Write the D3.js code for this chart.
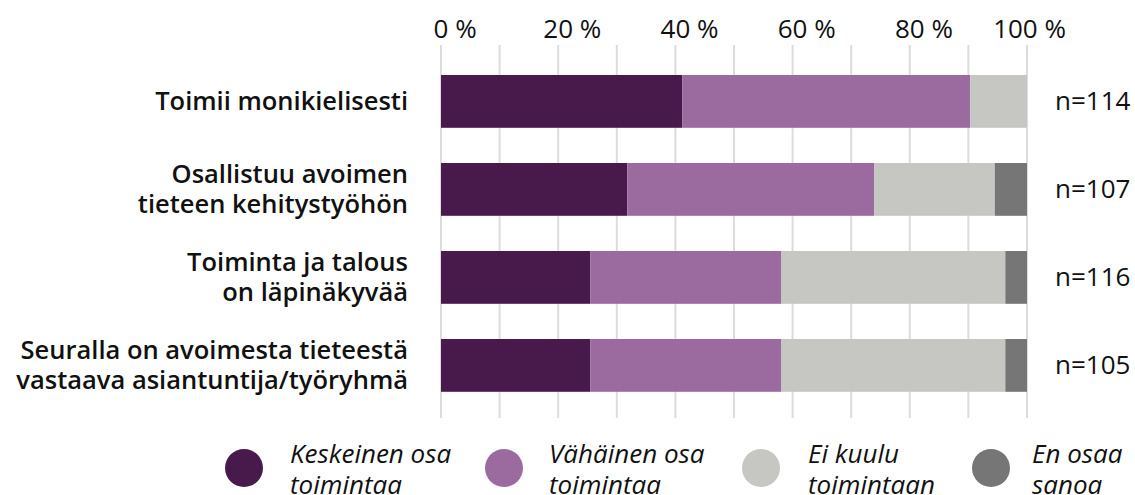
<!DOCTYPE html>
<html>
<head>
<meta charset="utf-8">
<script src="https://cdn.jsdelivr.net/npm/d3@7"></script>
<style>
  body { margin: 0; background: #fff; }
  svg { display: block; font-family: "Open Sans", sans-serif; }
</style>
</head>
<body>
<svg id="chart" width="1135" height="495"></svg>
<script>
// categories (label lines) and respondent counts
const categories = [
    ["Toimii monikielisesti"],
    ["Osallistuu avoimen", "tieteen kehitystyöhön"],
    ["Toiminta ja talous", "on läpinäkyvää"],
    ["Seuralla on avoimesta tieteestä", "vastaava asiantuntija/työryhmä"]
];
const counts = [114, 107, 116, 105];

// series shares, %
const keskeinen = [41.2, 31.8, 25.5, 25.5];
const vahainen = [49.1, 42.1, 32.6, 32.6];
const eiKuulu = [9.7, 20.6, 38.2, 38.2];
const enOsaa = [0, 5.5, 3.7, 3.7];

const seriesNames = [
    ["Keskeinen osa", "toimintaa"],
    ["Vähäinen osa", "toimintaa"],
    ["Ei kuulu", "toimintaan"],
    ["En osaa", "sanoa"]
];
const tickValues = [0, 20, 40, 60, 80, 100];

const colors = ["#48194b", "#9b6a9e", "#c6c7c2", "#767676"];

const svg = d3.select("#chart");

const x = d3.scaleLinear().domain([0, 100]).range([441, 1027]);
const y = d3.scaleBand()
            .domain(d3.range(categories.length))
            .range([57.4, 409.4])
            .paddingInner(0.4)
            .paddingOuter(0.2);

/* grid lines every 10 % */
svg.append("g")
   .selectAll("line")
   .data(d3.range(0, 101, 10))
   .join("line")
    .attr("x1", d => x(d))
    .attr("x2", d => x(d))
    .attr("y1", 45)
    .attr("y2", 418)
    .attr("stroke", "#dcdcdc")
    .attr("stroke-width", 2);

/* top axis labels: the number sits centred on its grid line,
   the last one is pulled in so it fits inside the picture */
const tickG = svg.append("g")
   .attr("font-size", "26px")
   .attr("fill", "#111");

tickG.selectAll("text")
   .data(tickValues)
   .join("text")
    .attr("y", 37.5)
    .text(d => `${d} %`)
    .each(function(d) {
        const el = d3.select(this);
        el.text(String(d));
        const numW = this.getComputedTextLength();
        el.text(`${d} %`);
        const fullW = this.getComputedTextLength();
        let left = x(d) - numW / 2;
        if (left + fullW > 1066) left = 1066 - fullW;
        el.attr("x", left);
    });

/* stacked bars */
const table = categories.map((c, i) => ({
    i: i,
    k0: keskeinen[i], k1: vahainen[i], k2: eiKuulu[i], k3: enOsaa[i]
}));
const stack = d3.stack().keys(["k0", "k1", "k2", "k3"]);
const layers = stack(table);

svg.append("g")
   .selectAll("g")
   .data(layers)
   .join("g")
    .attr("fill", (d, i) => colors[i])
   .selectAll("rect")
   .data(d => d)
   .join("rect")
    .attr("x", d => x(d[0]))
    .attr("width", d => x(d[1]) - x(d[0]))
    .attr("y", d => y(d.data.i))
    .attr("height", y.bandwidth());

/* category labels */
const lineH = 30;
svg.append("g")
   .attr("font-size", "25.5px")
   .attr("font-weight", 600)
   .attr("fill", "#111")
   .attr("text-anchor", "end")
   .selectAll("text")
   .data(categories)
   .join("text")
    .attr("x", 408)
    .attr("y", (d, i) => y(i) + y.bandwidth() / 2 + 9 - (d.length - 1) * lineH / 2)
    .selectAll("tspan")
    .data(d => d)
    .join("tspan")
     .attr("x", 408)
     .attr("dy", (d, j) => j === 0 ? 0 : lineH)
     .text(d => d);

/* n labels */
svg.append("g")
   .attr("font-size", "26px")
   .attr("fill", "#111")
   .selectAll("text")
   .data(counts)
   .join("text")
    .attr("x", 1055)
    .attr("y", (d, i) => y(i) + y.bandwidth() / 2 + 9)
    .text(d => `n=${d}`);

/* legend */
const legendCx = [244, 504, 761, 991];
const legendTx = [290, 549, 808, 1032];
const legend = svg.append("g")
   .selectAll("g")
   .data(seriesNames)
   .join("g");

legend.append("circle")
    .attr("cx", (d, i) => legendCx[i])
    .attr("cy", 468)
    .attr("r", 19)
    .attr("fill", (d, i) => colors[i]);

legend.append("text")
    .attr("y", 463)
    .attr("font-size", "26px")
    .attr("font-style", "italic")
    .attr("fill", "#111")
    .each(function(d, i) {
        d3.select(this).selectAll("tspan")
          .data(d)
          .join("tspan")
           .attr("x", legendTx[i])
           .attr("dy", (t, j) => j === 0 ? 0 : 31)
           .text(t => t);
    });
</script>
</body>
</html>
